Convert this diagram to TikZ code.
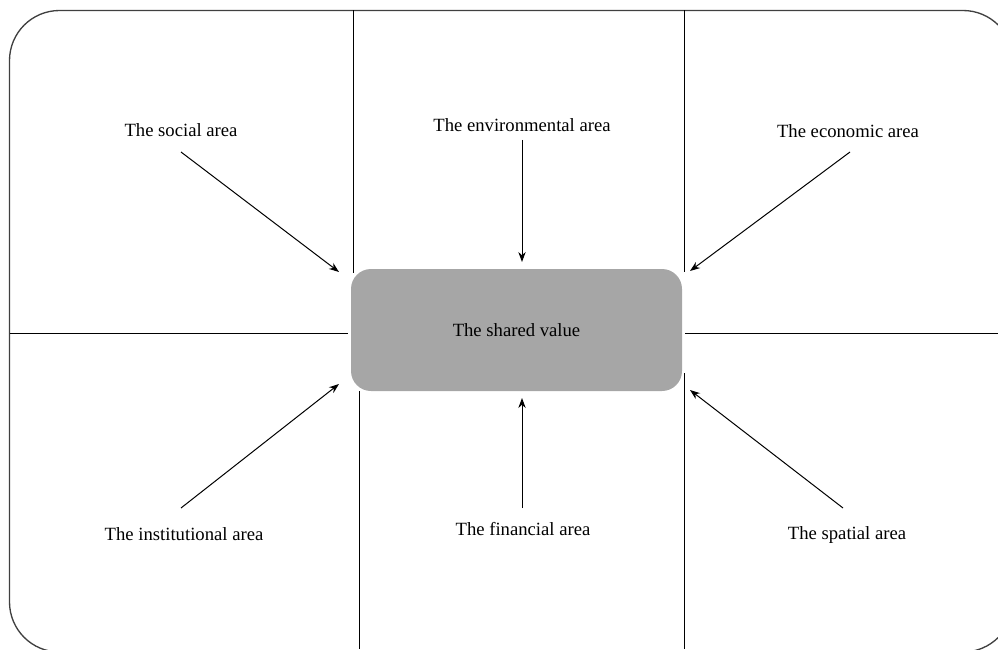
\documentclass[tikz,border=0pt]{standalone}
\usepackage{fontspec}
\setmainfont{Liberation Serif}
\usetikzlibrary{arrows.meta}
\begin{document}
\begin{tikzpicture}[x=0.75pt,y=-0.75pt,
  lbl/.style={font=\fontsize{14}{16}\selectfont, inner sep=0pt},
  gridline/.style={draw=black, line width=0.75pt},
  arr/.style={draw=black, line width=0.75pt, -{Stealth[length=7.5pt,width=5.5pt]}}]
\useasboundingbox (0,0) rectangle (998,649);
\clip (0,0) rectangle (998,649);
% outer frame
\draw[draw=black!75, line width=1pt, rounded corners=50*0.75pt] (9.5,10.5) rectangle (1013,652);
% grid lines
\draw[gridline] (353.5,10.5) -- (353.5,273);
\draw[gridline] (9.5,333) -- (348,333);
\draw[gridline] (359,391) -- (359,649);
\draw[gridline] (684.5,10.5) -- (684.5,272);
\draw[gridline] (685,333) -- (998,333);
\draw[gridline] (684.5,373) -- (684.5,649);
% center
\node[draw=none, fill=black!35, rounded corners=20*0.75pt, minimum width=331*0.75pt, minimum height=122*0.75pt, lbl] (center) at (516.5,330) {The shared value};
% labels
\node[lbl] (social) at (181,130) {The social area};
\node[lbl] (env) at (522,125) {The environmental area};
\node[lbl] (econ) at (848,131) {The economic area};
\node[lbl] (inst) at (184,534) {The institutional area};
\node[lbl] (fin) at (523,529) {The financial area};
\node[lbl] (spat) at (847,535.5) {The spatial area};
% arrow endpoints
\coordinate (s1) at (181,152); \coordinate (s2) at (339,272);
\coordinate (e1) at (522,140); \coordinate (e2) at (522,262);
\coordinate (c1) at (850,152); \coordinate (c2) at (690,271);
\coordinate (i1) at (181,508); \coordinate (i2) at (339,384);
\coordinate (f1) at (522,508); \coordinate (f2) at (522,398);
\coordinate (p1) at (843,508); \coordinate (p2) at (690,390);
\draw[arr] (s1) -- (s2);
\draw[arr] (e1) -- (e2);
\draw[arr] (c1) -- (c2);
\draw[arr] (i1) -- (i2);
\draw[arr] (f1) -- (f2);
\draw[arr] (p1) -- (p2);
\end{tikzpicture}
\end{document}
